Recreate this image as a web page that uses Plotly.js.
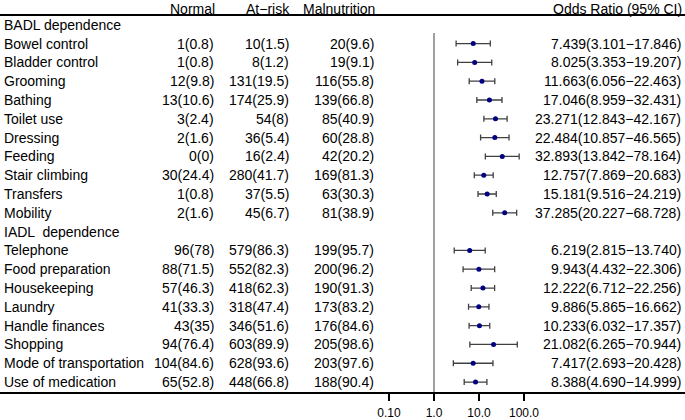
<!DOCTYPE html>
<html>
<head>
<meta charset="utf-8">
<script src="https://cdn.plot.ly/plotly-3.0.1.min.js"></script>
<style>body{margin:0;background:#fff}#chart{width:685px;height:420px}</style>
</head>
<body>
<div id="chart"></div>
<script>
// rows of the table (group headers have no numbers)
var labels = ['BADL dependence', 'Bowel control', 'Bladder control', 'Grooming', 'Bathing', 'Toilet use',
  'Dressing', 'Feeding', 'Stair climbing', 'Transfers', 'Mobility',
  'IADL  dependence', 'Telephone', 'Food preparation', 'Housekeeping', 'Laundry',
  'Handle finances', 'Shopping', 'Mode of transportation', 'Use of medication'];

var normalN   = [null, 1, 1, 12, 13, 3, 2, 0, 30, 1, 2, null, 96, 88, 57, 41, 43, 94, 104, 65];
var normalPct = [null, 0.8, 0.8, 9.8, 10.6, 2.4, 1.6, 0, 24.4, 0.8, 1.6, null, 78, 71.5, 46.3, 33.3, 35, 76.4, 84.6, 52.8];
var atriskN   = [null, 10, 8, 131, 174, 54, 36, 16, 280, 37, 45, null, 579, 552, 418, 318, 346, 603, 628, 448];
var atriskPct = [null, 1.5, 1.2, 19.5, 25.9, 8, 5.4, 2.4, 41.7, 5.5, 6.7, null, 86.3, 82.3, 62.3, 47.4, 51.6, 89.9, 93.6, 66.8];
var malN      = [null, 20, 19, 116, 139, 85, 60, 42, 169, 63, 81, null, 199, 200, 190, 173, 176, 205, 203, 188];
var malPct    = [null, 9.6, 9.1, 55.8, 66.8, 40.9, 28.8, 20.2, 81.3, 30.3, 38.9, null, 95.7, 96.2, 91.3, 83.2, 84.6, 98.6, 97.6, 90.4];

var oddsRatio = [null, 7.439, 8.025, 11.663, 17.046, 23.271, 22.484, 32.893, 12.757, 15.181, 37.285,
  null, 6.219, 9.943, 12.222, 9.886, 10.233, 21.082, 7.417, 8.388];
var ciLow  = [null, 3.101, 3.353, 6.056, 8.959, 12.843, 10.857, 13.842, 7.869, 9.516, 20.227,
  null, 2.815, 4.432, 6.712, 5.865, 6.032, 6.265, 2.693, 4.690];
var ciHigh = [null, 17.846, 19.207, 22.463, 32.431, 42.167, 46.565, 78.164, 20.683, 24.219, 68.728,
  null, 13.740, 22.306, 22.256, 16.662, 17.357, 70.944, 20.428, 14.999];

var headers = ['Normal', 'At\u2212risk', 'Malnutrition', 'Odds Ratio (95% CI)'];
var tickVals = [0.1, 1, 10, 100];
var tickText = ['0.10', '1.0', '10.0', '100.0'];

var W = 685;
var fnt = {family: 'Liberation Sans, Arial, sans-serif', size: 14, color: '#000'};
function px(x) { return x / W; }

var ys = [], xs = [], eplus = [], eminus = [];
for (var i = 0; i < labels.length; i++) {
  if (oddsRatio[i] === null) continue;
  ys.push(i + 1);
  xs.push(oddsRatio[i]);
  eplus.push(ciHigh[i] - oddsRatio[i]);
  eminus.push(oddsRatio[i] - ciLow[i]);
}

var trace = {
  x: xs, y: ys, type: 'scatter', mode: 'markers',
  marker: {color: '#000080', size: 5},
  error_x: {type: 'data', symmetric: false, array: eplus, arrayminus: eminus,
    color: '#404040', thickness: 1.3, width: 3},
  hoverinfo: 'x'
};

var ann = [];
function cell(txt, xpx, row, anchor) {
  ann.push({xref: 'paper', yref: 'y', x: px(xpx), y: row, text: txt, showarrow: false,
    xanchor: anchor, yanchor: 'middle', font: fnt});
}
// column headers sit against the top edge
function head(txt, xpx) {
  ann.push({xref: 'paper', yref: 'paper', x: px(xpx), y: 1, text: txt, showarrow: false,
    xanchor: 'right', yanchor: 'top', borderpad: 0, font: fnt});
}
head(headers[0], 216);
head(headers[1], 291);
head(headers[2], 376);
head(headers[3], 683);
for (var r = 0; r < labels.length; r++) {
  var row = r + 1;
  cell(labels[r], 2, row, 'left');
  if (normalN[r] === null) continue;
  cell(normalN[r] + '(' + normalPct[r] + ')', 216, row, 'right');
  cell(atriskN[r] + '(' + atriskPct[r] + ')', 291, row, 'right');
  cell(malN[r] + '(' + malPct[r] + ')', 376, row, 'right');
  cell(oddsRatio[r].toFixed(3) + '(' + ciLow[r].toFixed(3) + '\u2212' + ciHigh[r].toFixed(3) + ')', 683, row, 'right');
}

var layout = {
  width: 685, height: 420,
  margin: {l: 0, r: 0, t: 0, b: 0},
  paper_bgcolor: '#fff', plot_bgcolor: 'rgba(0,0,0,0)',
  showlegend: false,
  xaxis: {
    type: 'log', range: [-9.644, 5.578], domain: [0, 1],
    showline: true, linewidth: 2, linecolor: '#000',
    ticks: 'outside', ticklen: 7, tickwidth: 1.3, tickcolor: '#000',
    tickvals: tickVals, ticktext: tickText, ticklabelstandoff: 2,
    tickfont: {family: 'Liberation Sans, Arial, sans-serif', size: 12, color: '#000'},
    showgrid: false, zeroline: false, fixedrange: true
  },
  yaxis: {
    range: [20.53, -0.319], domain: [28 / 420, 1],
    visible: false, fixedrange: true
  },
  shapes: [
    {type: 'line', xref: 'paper', yref: 'paper', x0: 0, x1: 1, y0: 1 - 15 / 420, y1: 1 - 15 / 420,
      line: {color: '#000', width: 2}},
    {type: 'line', xref: 'x', yref: 'paper', x0: 1, x1: 1, y0: 28 / 420, y1: 1 - 33 / 420,
      line: {color: '#808080', width: 1.5}}
  ],
  annotations: ann
};

Plotly.newPlot('chart', [trace], layout, {displayModeBar: false, staticPlot: true});
</script>
</body>
</html>
